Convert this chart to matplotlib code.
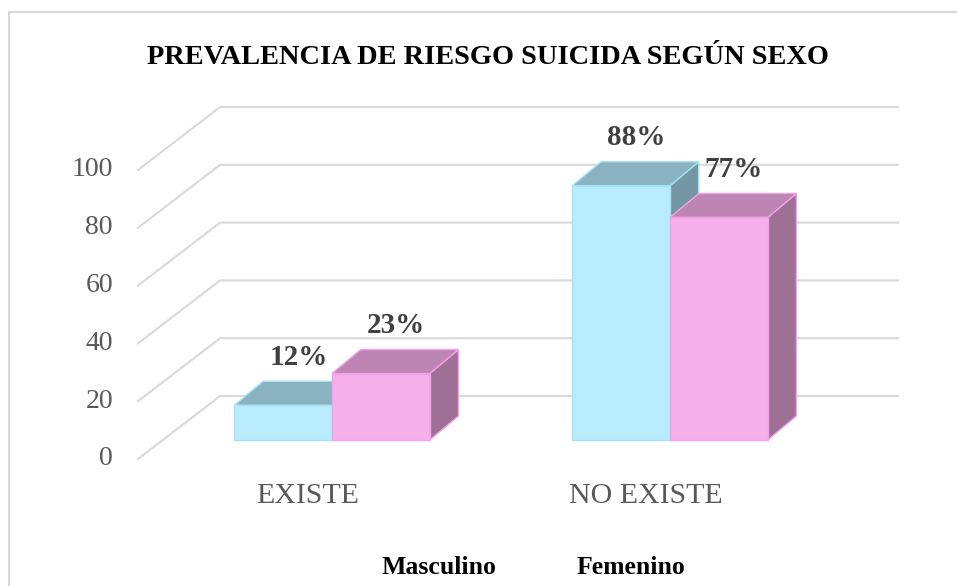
import matplotlib
matplotlib.use("Agg")
import matplotlib.pyplot as plt
from matplotlib.patches import Polygon, Rectangle

plt.rcParams['font.family'] = ['Liberation Serif', 'DejaVu Serif']

# -------------------------
# Data
# -------------------------
categories = ["EXISTE", "NO EXISTE"]
series_names = ["Masculino", "Femenino"]
masculino = [12, 88]
femenino = [23, 77]
value_labels = [["12%", "88%"], ["23%", "77%"]]
ticks = [0, 20, 40, 60, 80, 100]

# -------------------------
# Style / 3D geometry (data units)
# -------------------------
faces = [
    # front, top, side, edge
    ("#B8ECFC", "#8AB2C1", "#7597A4", "#A6E2F6"),
    ("#F5B0EA", "#BD85B3", "#9E7096", "#F2A2E6"),
]
bar_w = 0.289
bar_dx, bar_dy = 0.085, 8.3          # bar depth
grid_front = (-0.574, -6.57)         # side-wall front edge offset
grid_back = (-0.331, 15.22)          # back-wall offset
grid_right = 1.675
grid_col = "#D9D9D9"

fig = plt.figure(figsize=(9.57, 5.86), dpi=100)
ax = fig.add_axes([0, 0, 1, 1])
ax.set_xlim(-332 / 338, (957 - 332) / 338)
ax.set_ylim((440 - 586) / 2.89, 440 / 2.89)
ax.axis("off")

# chart frame
fig.patches.append(Rectangle((9 / 957, -0.1), 1.2, 1.1 - 12 / 586,
                             transform=fig.transFigure, fill=False,
                             edgecolor="#D9D9D9", linewidth=1.5))

# -------------------------
# Gridlines + tick labels
# -------------------------
for g in ticks:
    xs = [grid_front[0], grid_back[0], grid_right]
    ys = [g + grid_front[1], g + grid_back[1], g + grid_back[1]]
    ax.plot(xs, ys, color=grid_col, linewidth=1.5, zorder=1)
    ax.text(grid_front[0] - 0.074, g + grid_front[1], str(g),
            ha="right", va="center", fontsize=20, color="#595959")


# -------------------------
# Bars
# -------------------------
def bar3d(x0, h, cols):
    front, top, side, edge = cols
    x1 = x0 + bar_w
    side_pts = [(x1, 0), (x1 + bar_dx, bar_dy), (x1 + bar_dx, h + bar_dy), (x1, h)]
    top_pts = [(x0, h), (x0 + bar_dx, h + bar_dy), (x1 + bar_dx, h + bar_dy), (x1, h)]
    front_pts = [(x0, 0), (x1, 0), (x1, h), (x0, h)]
    for pts, c in [(side_pts, side), (top_pts, top), (front_pts, front)]:
        ax.add_patch(Polygon(pts, closed=True, facecolor=c, edgecolor=edge,
                             linewidth=1, zorder=3))


series = [masculino, femenino]
for i in range(len(categories)):
    for s, vals in enumerate(series):
        x0 = i - bar_w + s * bar_w
        bar3d(x0, vals[i], faces[s])
        ax.text(x0 + bar_w / 2 + 0.045, vals[i] + bar_dy + 8.3,
                value_labels[s][i], ha="center", va="center",
                fontsize=21, fontweight="bold", color="#404040", zorder=4)

for i, c in enumerate(categories):
    ax.text(i - 0.071, -19.4, c, ha="center", va="center",
            fontsize=21.5, color="#595959")

# -------------------------
# Title + legend (text only)
# -------------------------
fig.text(488 / 957, 1 - 57 / 586, "PREVALENCIA DE RIESGO SUICIDA SEGÚN SEXO",
         ha="center", va="center", fontsize=20.4, fontweight="bold", color="black")
for name, xp in zip(series_names, [439, 631]):
    fig.text(xp / 957, 1 - 567 / 586, name, ha="center", va="center",
             fontsize=18.5, fontweight="bold", color="black")

fig.savefig("out.png", dpi=100)
